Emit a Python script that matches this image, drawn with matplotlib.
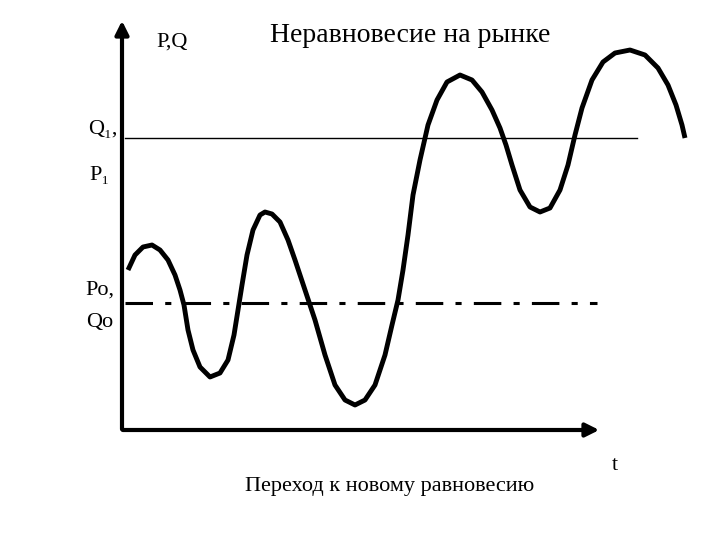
import matplotlib.pyplot as plt

plt.rcParams['font.family'] = ['Liberation Serif', 'DejaVu Serif']

# wave (pixel coordinates, y grows downward)
wave_x = [128, 135, 143, 152, 160, 168, 175, 180, 184, 188, 193, 200, 210, 220, 228, 234,
          238, 242, 247, 253, 260, 265, 272, 280, 288, 295, 305, 315, 325, 335, 345, 355,
          365, 375, 385, 392, 398, 403, 408, 413, 420, 428, 437, 447, 460, 472, 482, 492,
          500, 506, 512, 520, 530, 540, 550, 560, 568, 575, 582, 592, 603, 615, 630, 645,
          658, 668, 676, 682, 685]
wave_y = [270, 255, 247, 245, 250, 260, 275, 290, 305, 330, 350, 367, 377, 373, 360, 335,
          310, 285, 255, 230, 215, 212, 214, 222, 240, 260, 290, 320, 355, 385, 400, 405,
          400, 385, 355, 325, 300, 270, 235, 195, 160, 125, 100, 82, 75, 80, 92, 110,
          128, 145, 165, 190, 207, 212, 208, 190, 165, 135, 108, 80, 62, 53, 50, 55,
          68, 85, 105, 125, 138]

level_old = 303
level_new = 138

fig = plt.figure(figsize=(7.2, 5.4), dpi=100)
ax = fig.add_axes([0, 0, 1, 1])
ax.set_xlim(0, 720)
ax.set_ylim(540, 0)
ax.axis('off')

# axes with arrows
ax.annotate('', xy=(122, 18), xytext=(122, 432),
            arrowprops=dict(arrowstyle='-|>', lw=3, color='black', mutation_scale=20))
ax.annotate('', xy=(602, 430), xytext=(120, 430),
            arrowprops=dict(arrowstyle='-|>', lw=3, color='black', mutation_scale=20))

ax.plot([125, 637], [level_new, level_new], color='black', lw=1)
ax.plot([125, 597], [level_old, level_old], color='black', lw=2.2, dashes=(9, 4, 2, 4))
ax.plot(wave_x, wave_y, color='black', lw=3.5, solid_capstyle='butt', solid_joinstyle='round')

ax.text(172, 42, 'P,Q', fontsize=16, ha='center', va='center')
ax.text(410, 36, 'Неравновесие на рынке', fontsize=20, ha='center', va='center')
ax.text(103, 130, 'Q₁,', fontsize=16, ha='center', va='center')
ax.text(100, 176, 'P₁', fontsize=16, ha='center', va='center')
ax.text(100, 290, 'Po,', fontsize=16, ha='center', va='center')
ax.text(100, 322, 'Qo', fontsize=16, ha='center', va='center')
ax.text(390, 487, 'Переход к новому равновесию', fontsize=16, ha='center', va='center')
ax.text(615, 466, 't', fontsize=16, ha='center', va='center')

fig.savefig('out.png', dpi=100)
